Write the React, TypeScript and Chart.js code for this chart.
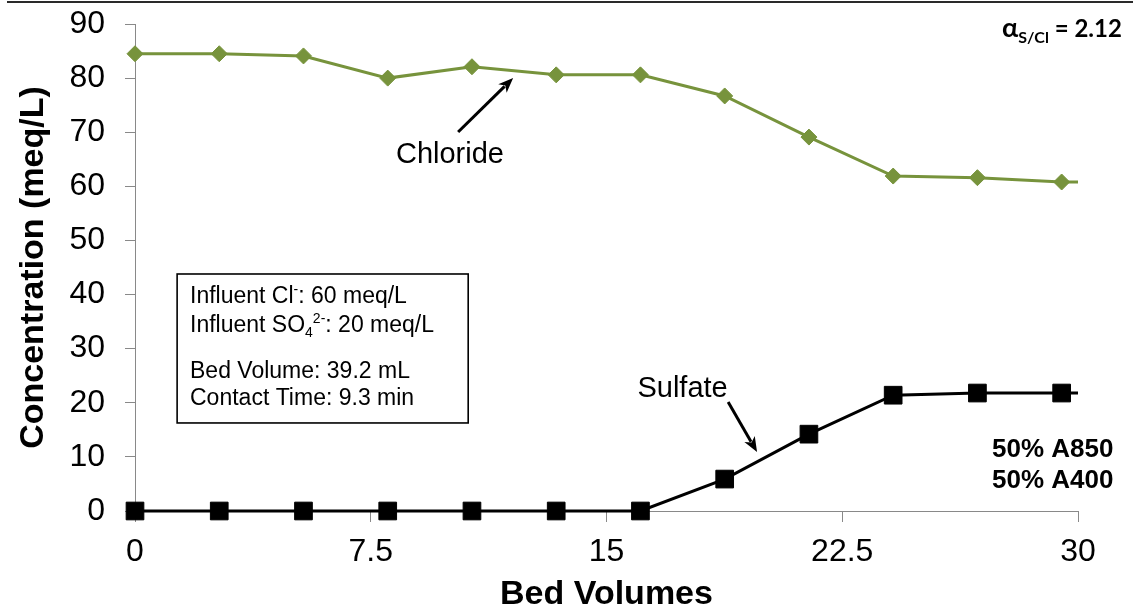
import React, { useEffect, useRef } from 'react';
import { Chart, registerables } from 'chart.js';

Chart.register(...registerables);

// ---- data ----
const bedVolumes = [0, 2.68, 5.36, 8.04, 10.72, 13.4, 16.08, 18.76, 21.44, 24.12, 26.8, 29.48, 30];
const chloride = [84.5, 84.5, 84.1, 80.0, 82.1, 80.6, 80.6, 76.7, 69.1, 61.9, 61.6, 60.8, 60.8];
const sulfate = [0, 0, 0, 0, 0, 0, 0, 5.9, 14.2, 21.4, 21.8, 21.8, 21.8];
const markerShown = [true, true, true, true, true, true, true, true, true, true, true, true, false];
const xTicks = [0, 7.5, 15, 22.5, 30];
const xTickLabels = ['0', '7.5', '15', '22.5', '30'];
const yTicks = [0, 10, 20, 30, 40, 50, 60, 70, 80, 90];
const yTickLabels = ['0', '10', '20', '30', '40', '50', '60', '70', '80', '90'];

const FONT = '"Liberation Sans", Arial, Helvetica, sans-serif';
const GREEN = '#77933C';
const AXIS = '#898989';

type Run = [string, string, number];

function drawRuns(ctx: CanvasRenderingContext2D, x: number, y: number, parts: Run[]) {
  for (const [t, f, dy] of parts) {
    ctx.font = f;
    ctx.fillText(t, x, y + dy);
    x += ctx.measureText(t).width;
  }
}

function drawArrow(ctx: CanvasRenderingContext2D, x1: number, y1: number, x2: number, y2: number) {
  const ang = Math.atan2(y2 - y1, x2 - x1);
  const headLen = 15;
  const headW = 6;
  const bx = x2 - headLen * Math.cos(ang);
  const by = y2 - headLen * Math.sin(ang);
  ctx.lineWidth = 3;
  ctx.strokeStyle = '#000';
  ctx.fillStyle = '#000';
  ctx.beginPath();
  ctx.moveTo(x1, y1);
  ctx.lineTo(bx + 3 * Math.cos(ang), by + 3 * Math.sin(ang));
  ctx.stroke();
  ctx.beginPath();
  ctx.moveTo(x2, y2);
  ctx.lineTo(bx + headW * Math.sin(ang), by - headW * Math.cos(ang));
  ctx.lineTo(bx + 4 * Math.cos(ang), by + 4 * Math.sin(ang));
  ctx.lineTo(bx - headW * Math.sin(ang), by + headW * Math.cos(ang));
  ctx.closePath();
  ctx.fill();
}

const annotations = {
  id: 'annotations',
  afterDraw(chart: any) {
    const { ctx, scales } = chart;
    const px = (v: number) => scales.x.getPixelForValue(v);
    const py = (v: number) => scales.y.getPixelForValue(v);
    ctx.save();
    ctx.fillStyle = '#000';
    ctx.textBaseline = 'alphabetic';

    // series labels
    ctx.textAlign = 'center';
    ctx.font = `29px ${FONT}`;
    ctx.fillText('Chloride', px(10.02), py(64.3));
    ctx.fillText('Sulfate', px(17.42), py(21.1));

    drawArrow(ctx, px(10.28), py(70.05), px(12.03), py(80.04));
    drawArrow(ctx, px(18.87), py(20.15), px(19.79), py(10.9));

    // info box
    ctx.lineWidth = 1.6;
    ctx.strokeStyle = '#000';
    const bl = px(1.34), br = px(10.6), bt = py(43.8), bb = py(16.27);
    ctx.strokeRect(bl, bt, br - bl, bb - bt);
    ctx.textAlign = 'left';
    ctx.fillStyle = '#000';
    const f = `23px ${FONT}`;
    const s = `14px ${FONT}`;
    const tx = px(1.75);
    drawRuns(ctx, tx, py(38.45), [['Influent Cl', f, 0], ['-', s, -9], [': 60 meq/L', f, 0]]);
    drawRuns(ctx, tx, py(33.1), [['Influent SO', f, 0], ['4', s, 5], ['2-', s, -9], [': 20 meq/L', f, 0]]);
    drawRuns(ctx, tx, py(24.6), [['Bed Volume: 39.2 mL', f, 0]]);
    drawRuns(ctx, tx, py(19.6), [['Contact Time: 9.3 min', f, 0]]);

    // top-right separation factor
    drawRuns(ctx, 1002, 37, [
      ['\u03B1', 'bold 27px Lato, "Open Sans", sans-serif', 0],
      ['S/Cl', 'bold 16px Lato, "Open Sans", sans-serif', 6],
      [' = 2.12', 'bold 24px Lato, "Open Sans", sans-serif', 0],
    ]);

    // resin mix
    ctx.font = `bold 26px ${FONT}`;
    ctx.fillText('50% A850', 992, 457);
    ctx.fillText('50% A400', 992, 488);
    ctx.restore();
  },
};

export default function App() {
  const ref = useRef<HTMLCanvasElement>(null);

  useEffect(() => {
    document.body.style.margin = '0';
    const canvas = ref.current!;
    const chart = new Chart(canvas, {
      type: 'line',
      data: {
        datasets: [
          {
            label: 'Chloride',
            data: bedVolumes.map((x, i) => ({ x, y: chloride[i] })),
            borderColor: GREEN,
            backgroundColor: GREEN,
            borderWidth: 3,
            pointStyle: 'rectRot',
            pointRadius: (c: any) => (markerShown[c.dataIndex] ? 8 : 0),
            pointBackgroundColor: GREEN,
            pointBorderColor: GREEN,
            pointBorderWidth: 1,
            tension: 0,
            clip: false as any,
          },
          {
            label: 'Sulfate',
            data: bedVolumes.map((x, i) => ({ x, y: sulfate[i] })),
            borderColor: '#000',
            backgroundColor: '#000',
            borderWidth: 3,
            pointStyle: 'rect',
            pointRadius: (c: any) => (markerShown[c.dataIndex] ? 12.5 : 0),
            pointBackgroundColor: '#000',
            pointBorderColor: '#000',
            pointBorderWidth: 1,
            tension: 0,
            clip: false as any,
          },
        ],
      },
      options: {
        animation: false,
        responsive: false,
        devicePixelRatio: 1,
        events: [],
        layout: { padding: { left: 0, right: 58, top: 24, bottom: 0 } },
        plugins: {
          legend: { display: false },
          tooltip: { enabled: false },
        },
        scales: {
          x: {
            type: 'linear',
            min: 0,
            max: 30,
            afterBuildTicks: (sc: any) => {
              sc.ticks = xTicks.map((v) => ({ value: v }));
            },
            afterFit: (sc: any) => {
              sc.height = 102;
              sc.paddingLeft = 0;
              sc.paddingRight = 0;
            },
            ticks: {
              autoSkip: false,
              maxRotation: 0,
              padding: 11,
              color: '#000',
              font: { family: FONT, size: 32 },
              callback: (_v: any, i: number) => xTickLabels[i],
            },
            grid: {
              display: true,
              drawOnChartArea: false,
              drawTicks: true,
              tickLength: 11,
              color: AXIS,
              lineWidth: 1,
            },
            border: { display: true, color: AXIS, width: 1 },
            title: {
              display: true,
              text: 'Bed Volumes',
              color: '#000',
              font: { family: FONT, size: 34, weight: 'bold', lineHeight: 1 },
              padding: { top: 0, bottom: 1 },
            },
          },
          y: {
            type: 'linear',
            min: 0,
            max: 90,
            afterBuildTicks: (sc: any) => {
              sc.ticks = yTicks.map((v) => ({ value: v }));
            },
            afterFit: (sc: any) => {
              sc.width = 135;
              sc.paddingTop = 0;
              sc.paddingBottom = 0;
            },
            ticks: {
              autoSkip: false,
              padding: 20,
              color: '#000',
              font: { family: FONT, size: 32 },
              callback: (_v: any, i: number) => yTickLabels[i],
            },
            grid: {
              display: true,
              drawOnChartArea: false,
              drawTicks: true,
              tickLength: 10,
              color: AXIS,
              lineWidth: 1,
            },
            border: { display: true, color: AXIS, width: 1 },
            title: {
              display: true,
              text: 'Concentration (meq/L)',
              color: '#000',
              font: { family: FONT, size: 34, weight: 'bold', lineHeight: 1 },
              padding: { top: 17, bottom: 0 },
            },
          },
        },
      } as any,
      plugins: [annotations],
    });
    return () => chart.destroy();
  }, []);

  return (
    <div style={{ position: 'relative', width: 1136, height: 613, background: '#fff' }}>
      <canvas ref={ref} width={1136} height={613} style={{ display: 'block', width: 1136, height: 613 }} />
      <div style={{ position: 'absolute', left: 7, top: 1, width: 1126, height: 2, background: '#2a2a2a' }} />
    </div>
  );
}
